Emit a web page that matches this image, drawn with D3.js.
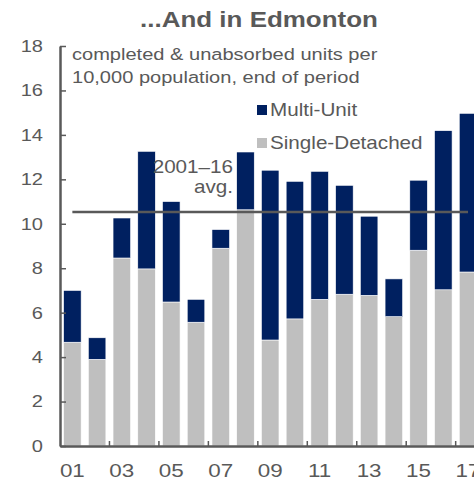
<!DOCTYPE html>
<html>
<head>
<meta charset="utf-8">
<script src="https://cdn.jsdelivr.net/npm/d3@7.9.0/dist/d3.min.js"></script>
<style>
  body { margin: 0; background: #fff; }
  svg { display: block; font-family: "Liberation Sans", Arial, sans-serif; }
</style>
</head>
<body>
<svg id="chart" width="474" height="479"></svg>
<script>
// values
const years = ["01","02","03","04","05","06","07","08","09","10","11","12","13","14","15","16","17"];
const singleDetached = [4.67, 3.90, 8.46, 7.97, 6.48, 5.57, 8.90, 10.63, 4.77, 5.72, 6.60, 6.83, 6.78, 5.82, 8.81, 7.03, 7.83];
const multiUnit = [2.33, 0.97, 1.80, 5.29, 4.52, 1.03, 0.84, 2.60, 7.64, 6.19, 5.76, 4.90, 3.56, 1.70, 3.15, 7.16, 7.14];
const yTicks = [0, 2, 4, 6, 8, 10, 12, 14, 16, 18];
const xLabels = ["01","03","05","07","09","11","13","15","17"];
const avg2001to16 = 10.53;

const grey = "#595959";
const navy = "#002060";
const light = "#bfbfbf";
const SX = 1.18; // text in the source is stretched sideways

const svg = d3.select("#chart");

const x = d3.scaleBand()
  .domain(years)
  .range([60, 480.4])
  .paddingInner(0.29)
  .paddingOuter(0.145);

const y = d3.scaleLinear().domain([0, 18]).range([446, 46]);

const rows = years.map((yr, i) => ({ year: yr, single: singleDetached[i], multi: multiUnit[i] }));
const stacked = d3.stack().keys(["single", "multi"])(rows);
const colour = { single: light, multi: navy };

// bars
svg.append("g")
  .selectAll("g")
  .data(stacked)
  .join("g")
  .attr("fill", d => colour[d.key])
  .selectAll("rect")
  .data(d => d)
  .join("rect")
  .attr("x", d => x(d.data.year))
  .attr("width", x.bandwidth())
  .attr("y", d => y(d[1]))
  .attr("height", d => y(d[0]) - y(d[1]))
  .attr("stroke", "#fff")
  .attr("stroke-width", 0.6);

// average line
svg.append("line")
  .attr("x1", x(years[0]) + x.bandwidth() / 2)
  .attr("x2", x(years[years.length - 1]) + x.bandwidth() / 2)
  .attr("y1", y(avg2001to16))
  .attr("y2", y(avg2001to16))
  .attr("stroke", grey)
  .attr("stroke-width", 2.5);

// y axis
const yAxis = svg.append("g")
  .attr("transform", "translate(60,0)")
  .call(d3.axisLeft(y).tickValues(yTicks).tickSize(-6).tickSizeOuter(0));
yAxis.select(".domain").attr("stroke", grey).attr("stroke-width", 2.5);
yAxis.selectAll(".tick line").attr("stroke", grey).attr("stroke-width", 1.5);
yAxis.selectAll(".tick text")
  .attr("x", 0)
  .attr("transform", `translate(-17,0) scale(${SX},1)`)
  .attr("fill", grey)
  .style("font-size", "17px");

// x axis
const xAxis = svg.append("g")
  .attr("transform", "translate(0,446)")
  .call(d3.axisBottom(x).tickValues(xLabels).tickSize(0).tickSizeOuter(0));
xAxis.select(".domain").attr("stroke", grey).attr("stroke-width", 2.5);
xAxis.selectAll(".tick text")
  .attr("y", 0)
  .attr("dy", 0)
  .attr("transform", `translate(0,31) scale(${SX},1)`)
  .attr("fill", grey)
  .style("font-size", "19px");

// tick marks between every second pair of bars
const edgeTicks = years.filter((d, i) => i > 0 && i % 2 === 0);
xAxis.selectAll(".edge")
  .data(edgeTicks)
  .join("line")
  .attr("x1", d => x(d) - x.step() * x.paddingInner() / 2)
  .attr("x2", d => x(d) - x.step() * x.paddingInner() / 2)
  .attr("y1", 0)
  .attr("y2", -5)
  .attr("stroke", grey)
  .attr("stroke-width", 1.5);

function label(str, px, py, size, anchor, weight) {
  return svg.append("text")
    .attr("transform", `translate(${px},${py}) scale(${SX},1)`)
    .attr("text-anchor", anchor || "start")
    .attr("fill", grey)
    .style("font-size", size + "px")
    .style("font-weight", weight || "normal")
    .text(str);
}

label("...And in Edmonton", 259, 27, 22, "middle", "bold");
label("completed & unabsorbed units per", 72, 60, 17);
label("10,000 population, end of period", 72, 83, 17);
label("2001\u201316", 233, 172.5, 17.5, "end");
label("avg.", 233, 193, 17.5, "end");

// legend
const legend = [["Multi-Unit", navy], ["Single-Detached", light]];
legend.forEach(([name, c], i) => {
  svg.append("rect")
    .attr("x", 257).attr("y", 105 + i * 33)
    .attr("width", 10).attr("height", 10)
    .attr("fill", c);
  label(name, 270, 116 + i * 32.5, 17.5);
});
</script>
</body>
</html>
